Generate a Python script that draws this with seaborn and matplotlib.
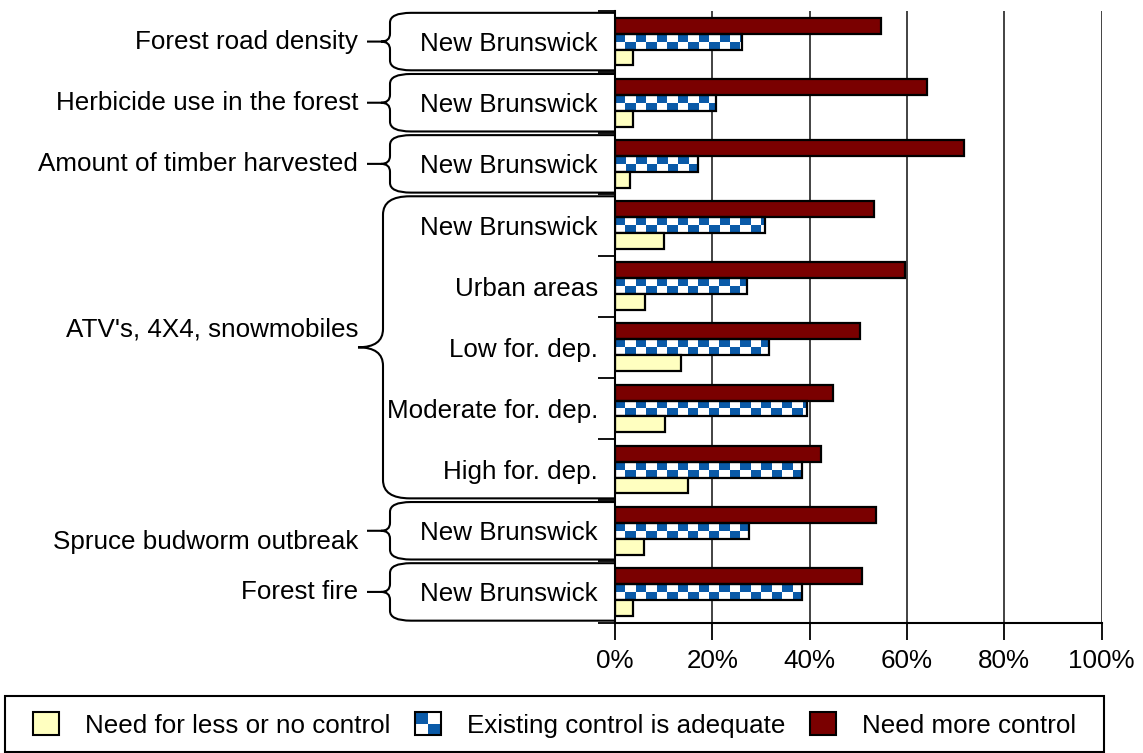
import numpy as np
import pandas as pd
import matplotlib
matplotlib.use('Agg')
import matplotlib.pyplot as plt
import matplotlib.transforms as mtransforms
from matplotlib.path import Path
from matplotlib.patches import PathPatch, Rectangle, Patch
from matplotlib.legend_handler import HandlerBase
from matplotlib.colors import ListedColormap
import seaborn as sns

# data (percent of respondents)
rows = ["road", "herbicide", "timber", "atv_nb", "atv_urban", "atv_low",
        "atv_moderate", "atv_high", "budworm", "fire"]
inner_labels = ["New Brunswick", "New Brunswick", "New Brunswick", "New Brunswick",
                "Urban areas", "Low for. dep.", "Moderate for. dep.", "High for. dep.",
                "New Brunswick", "New Brunswick"]
more_control = [54.7, 64.1, 71.7, 53.3, 59.7, 50.4, 44.8, 42.3, 53.7, 50.8]
adequate = [26.2, 20.8, 17.1, 30.9, 27.1, 31.6, 39.4, 38.5, 27.5, 38.5]
less_control = [3.8, 3.6, 3.1, 10.1, 6.2, 13.6, 10.2, 15.1, 6.0, 3.8]

groups = ["Forest road density", "Herbicide use in the forest",
          "Amount of timber harvested", "ATV's, 4X4, snowmobiles",
          "Spruce budworm outbreak", "Forest fire"]
group_first = [0, 1, 2, 3, 8, 9]
group_last = [0, 1, 2, 7, 8, 9]

series = ["Need more control", "Existing control is adequate", "Need for less or no control"]
RED, BLUE, YELLOW = '#7a0000', '#0a5aa8', '#ffffc0'

df = pd.DataFrame({'row': rows, series[0]: more_control, series[1]: adequate,
                   series[2]: less_control})
df = df.melt(id_vars='row', var_name='response', value_name='pct')

sns.set_theme(style='white')
plt.rcParams['font.family'] = ['Liberation Sans', 'DejaVu Sans']
plt.rcParams.update({'text.color': 'black', 'axes.labelcolor': 'black',
                     'xtick.color': 'black', 'ytick.color': 'black'})
FS = 18.7

W, H = 1143, 753
AX_L, AX_R, AX_T, AX_B = 615, 1101.5, 11, 622.5
fig = plt.figure(figsize=(W / 100, H / 100), dpi=100)
ax = fig.add_axes([AX_L / W, 1 - AX_B / H, (AX_R - AX_L) / W, (AX_B - AX_T) / H])

sns.barplot(data=df, y='row', x='pct', hue='response', hue_order=series, order=rows,
            palette=[RED, BLUE, YELLOW], saturation=1, orient='h', width=0.78,
            edgecolor='black', linewidth=1.6, legend=False, ax=ax)

# checkerboard fill for the "adequate" bars
checker = ListedColormap(['white', BLUE])
cell = 2.14
for p in ax.containers[1]:
    x0, y0, w, h = p.get_x(), p.get_y(), p.get_width(), p.get_height()
    nx = int(np.ceil(w / cell)) + 1
    pattern = (np.add.outer(np.arange(2), np.arange(nx)) % 2 == 0).astype(int)
    im = ax.imshow(pattern, cmap=checker, vmin=0, vmax=1, interpolation='nearest',
                   aspect='auto', extent=(x0, x0 + nx * cell, y0 + h, y0), zorder=0.9)
    im.set_clip_path(p)
    p.set_facecolor('none')

ax.set_xlim(0, 100)
ax.set_ylim(len(rows) - 0.5, -0.5)
ax.set_xticks(range(0, 101, 20), [f'{v}%' for v in range(0, 101, 20)], fontsize=FS)
ax.tick_params(axis='x', length=12.2, width=1.3, pad=7, color='black', bottom=True)
ax.set_yticks(range(len(rows)), inner_labels, fontsize=FS)
ax.set_yticks(np.arange(-0.5, len(rows), 1), minor=True)
ax.tick_params(axis='y', which='major', length=0, pad=12.2, left=True)
ax.tick_params(axis='y', which='minor', length=12.2, width=1.3, color='black', left=True)
ax.set_xlabel('')
ax.set_ylabel('')
ax.grid(axis='x', color='#222222', lw=1.2)
ax.set_axisbelow(True)
for s in ['top', 'right']:
    ax.spines[s].set_visible(False)
for s in ['left', 'bottom']:
    ax.spines[s].set_color('black')
    ax.spines[s].set_linewidth(1.5)


# braces joining the outer labels to the inner ones
def fx(px):
    return (px - AX_L) / (AX_R - AX_L)


trans = mtransforms.blended_transform_factory(ax.transAxes, ax.transData)
for name, a, b in zip(groups, group_first, group_last):
    big = b > a
    xv = fx(383 if big else 390)
    xc = fx(410 if big else 411)
    xt = fx(358 if big else 381)
    xs = fx(358 if big else 367)
    rc = 0.3 if big else 0.16
    rt = 0.3 if big else 0.13
    ya, yb, ym = a - 0.5 + 0.03, b + 0.5 - 0.03, (a + b) / 2
    verts = [(0, ya), (xc, ya), (xv, ya), (xv, ya + rc), (xv, ym - rt),
             (xv, ym), (xt, ym), (xv, ym), (xv, ym + rt), (xv, yb - rc),
             (xv, yb), (xc, yb), (0, yb), (xt, ym), (xs, ym)]
    codes = [Path.MOVETO, Path.LINETO, Path.CURVE3, Path.CURVE3, Path.LINETO,
             Path.CURVE3, Path.CURVE3, Path.CURVE3, Path.CURVE3, Path.LINETO,
             Path.CURVE3, Path.CURVE3, Path.LINETO, Path.MOVETO, Path.LINETO]
    ax.add_patch(PathPatch(Path(verts, codes), transform=trans, facecolor='none',
                           edgecolor='black', lw=1.5, clip_on=False))
    dy = {3: -0.29, 8: 0.18}.get(a, 0)
    ax.text(fx(358), ym + dy, name, transform=trans, ha='right', va='center',
            fontsize=FS, color='black')


class CheckerHandler(HandlerBase):
    def create_artists(self, legend, orig_handle, xdescent, ydescent, width, height,
                       fontsize, trans):
        w, h = width / 2, height / 2
        arts = []
        for i in range(2):
            for j in range(2):
                c = BLUE if (i + j) % 2 == 0 else 'white'
                arts.append(Rectangle((-xdescent + i * w, -ydescent + (1 - j) * h), w, h,
                                      facecolor=c, edgecolor='none', transform=trans))
        arts.append(Rectangle((-xdescent, -ydescent), width, height, facecolor='none',
                              edgecolor='black', lw=1.5, transform=trans))
        return arts


h_less = Patch(facecolor=YELLOW, edgecolor='black', lw=1.5)
h_adeq = Patch(facecolor=BLUE, edgecolor='black', lw=1.5)
h_more = Patch(facecolor=RED, edgecolor='black', lw=1.5)
fig.legend([h_less, h_adeq, h_more], series[::-1], loc='center',
           bbox_to_anchor=(555 / W, 1 - 725 / H), ncol=3, frameon=False,
           fontsize=FS, handlelength=1.0, handleheight=1.0, handletextpad=1.0,
           columnspacing=0.95, borderpad=0, labelcolor='black',
           handler_map={h_adeq: CheckerHandler()})
fig.add_artist(Rectangle((5 / W, 1 - 752 / H), (1104 - 5) / W, (752 - 696) / H,
                         transform=fig.transFigure, fill=False, edgecolor='black', lw=1.5))

fig.savefig('out.png', dpi=100)
